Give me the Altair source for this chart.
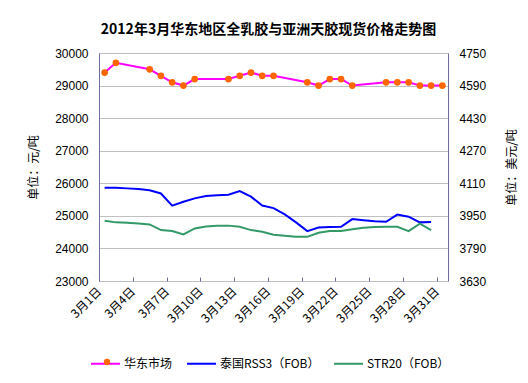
import altair as alt
import pandas as pd

# ---- data ----
series_names = ["华东市场", "泰国RSS3（FOB）", "STR20（FOB）"]

# 华东市场 (元/吨, left axis), trading days of March 2012
cn_days = [1, 2, 5, 6, 7, 8, 9, 12, 13, 14, 15, 16, 19, 20, 21, 22, 23, 26, 27, 28, 29, 30, 31]
cn_price = [29400, 29700, 29500, 29300, 29100, 29000, 29200, 29200, 29300, 29400, 29300, 29300,
            29100, 29000, 29200, 29200, 29000, 29100, 29100, 29100, 29000, 29000, 29000]

# 泰国RSS3 / STR20 (美元/吨, right axis)
usd_days = list(range(1, 31))
rss3_price = [4088, 4088, 4085, 4082, 4076, 4060, 4000, 4019, 4036, 4048,
              4051, 4054, 4072, 4044, 4001, 3988, 3957, 3918, 3875, 3893,
              3895, 3896, 3934, 3929, 3924, 3921, 3956, 3946, 3918, 3920]
str20_price = [3926, 3918, 3916, 3912, 3908, 3880, 3876, 3859, 3888, 3898,
               3902, 3902, 3896, 3880, 3872, 3857, 3852, 3847, 3847, 3867,
               3876, 3876, 3884, 3892, 3895, 3896, 3896, 3875, 3912, 3880]

label_days = [1, 4, 7, 10, 13, 16, 19, 22, 25, 28, 31]
left_ticks = [23000, 24000, 25000, 26000, 27000, 28000, 29000, 30000]
right_ticks = [3630, 3790, 3950, 4110, 4270, 4430, 4590, 4750]

title_text = "2012年3月华东地区全乳胶与亚洲天胶现货价格走势图"

# ---- tables ----
cn_df = pd.DataFrame({"day": cn_days, "price": cn_price, "series": series_names[0]})
usd_df = pd.concat([
    pd.DataFrame({"day": usd_days, "price": rss3_price, "series": series_names[1]}),
    pd.DataFrame({"day": usd_days, "price": str20_price, "series": series_names[2]}),
])

W, H = 349, 228
AXIS_C = "#6E6E9E"
CJK = "Noto Sans CJK SC"
NUM = "Liberation Sans"

line_legend = alt.Legend(
    orient="none", legendX=-9, legendY=295, direction="horizontal", title=None,
    symbolType="stroke", symbolSize=841, symbolStrokeWidth=2, padding=0,
    labelFont=CJK, labelFontSize=12, labelColor="black", labelOffset=3,
    columnPadding=10, zindex=0,
)

dot_legend = alt.Legend(
    orient="none", legendX=2, legendY=303, title=None, padding=0,
    symbolType="circle", symbolSize=40, symbolStrokeWidth=0, labelExpr="''",
    labelFontSize=12, zindex=1,
)

color = alt.Color("series:N",
                  scale=alt.Scale(domain=series_names, range=["#FF00FF", "#0000FF", "#339966"]),
                  legend=line_legend)

x_enc = alt.X(
    "day:Q",
    scale=alt.Scale(domain=[0.5, 31.5], nice=False, zero=False),
    axis=alt.Axis(
        values=label_days, labelExpr="'3月' + datum.value + '日'",
        labelAngle=315, labelAlign="right", labelBaseline="middle", labelOverlap=False,
        labelFont=CJK, labelFontSize=12, labelColor="black", labelPadding=8,
        tickSize=4, tickColor=AXIS_C, tickOffset=-W / 31 / 2, offset=-4,
        domain=False, grid=False, title=None,
    ),
)

y_left = alt.Y(
    "price:Q",
    scale=alt.Scale(domain=[23000, 30000], nice=False, zero=False),
    axis=alt.Axis(
        values=left_ticks, format="d", grid=True, gridColor="#C0C0C0", ticks=False,
        domainColor=AXIS_C, labelFont=NUM, labelFontSize=12, labelColor="black", labelPadding=11,
        title="单位：元/吨", titleFont=CJK, titleFontSize=12, titleFontWeight="normal",
        titleColor="black", titlePadding=14,
    ),
)

y_right = alt.Y(
    "price:Q",
    scale=alt.Scale(domain=[3630, 4750], nice=False, zero=False),
    axis=alt.Axis(
        orient="right", values=right_ticks, format="d", grid=False, ticks=False,
        domainColor=AXIS_C, labelFont=NUM, labelFontSize=12, labelColor="black", labelPadding=11,
        title="单位：美元/吨", titleFont=CJK, titleFontSize=12, titleFontWeight="normal",
        titleColor="black", titlePadding=33, titleAngle=270,
    ),
)

cn_line = alt.Chart(cn_df).mark_line(strokeWidth=2).encode(x=x_enc, y=y_left, color=color)
cn_pts = alt.Chart(cn_df).mark_point(filled=True, size=45, opacity=1).encode(
    x=x_enc, y=y_left,
    fill=alt.Fill("series:N", scale=alt.Scale(domain=[series_names[0]], range=["#FF6600"]),
                  legend=dot_legend),
)
left = alt.layer(cn_line, cn_pts)

right = alt.Chart(usd_df).mark_line(strokeWidth=2).encode(
    x=x_enc, y=y_right, color=color, detail="series:N")

chart = alt.layer(left, right).resolve_scale(y="independent").properties(
    width=W, height=H,
    autosize=alt.AutoSizeParams(type="none"),
    padding={"left": 91, "top": 45, "right": 72, "bottom": 94},
    title=alt.TitleParams(title_text, font=CJK, fontSize=14, fontWeight="bold", color="black",
                          anchor="middle", offset=10, dx=-5),
).configure_view(stroke=AXIS_C, strokeWidth=1).configure(background="white")

chart.save("out.html", embed_options={"renderer": "svg", "actions": False})
